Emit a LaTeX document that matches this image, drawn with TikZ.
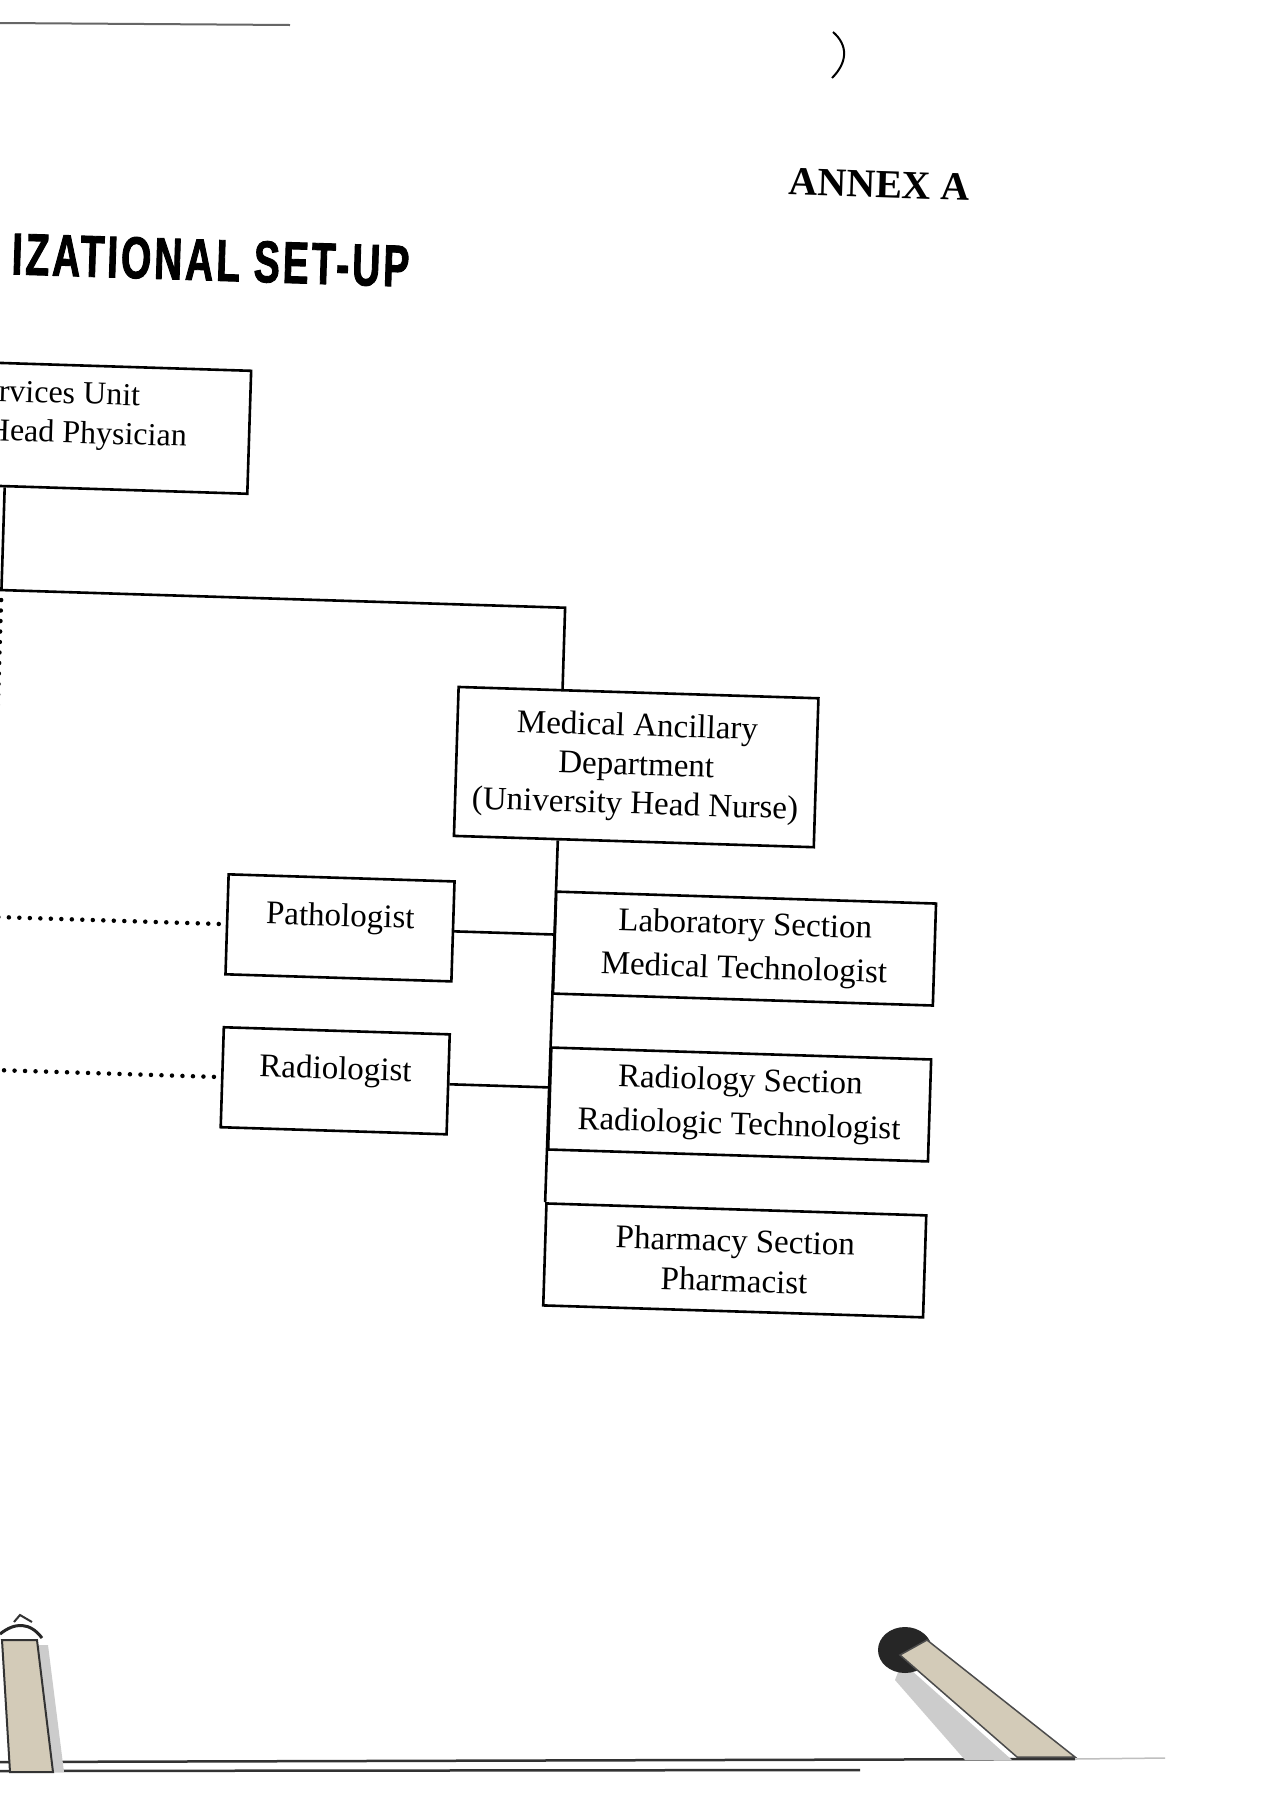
\documentclass[tikz,border=0pt]{standalone}
\usepackage{fontspec}
\setmainfont{Liberation Serif}
\newfontfamily\titlefont{Liberation Sans}[FakeStretch=0.66,FakeBold=1.5,LetterSpace=5]
\usetikzlibrary{positioning}
\definecolor{clipmetal}{HTML}{D3CBB8}

\begin{document}
\begin{tikzpicture}[x=1pt,y=-1pt,
    box/.style={draw,line width=2.6pt,inner sep=0pt,align=center,font=\fontsize{33}{39}\selectfont},
    secbox/.style={box,minimum width=380pt,minimum height=102pt,font=\fontsize{33}{44}\selectfont},
    sidebox/.style={box,minimum width=226pt,minimum height=100pt,text depth=26pt},
    link/.style={line width=2.6pt},
    dotlink/.style={line width=4.5pt,line cap=round,dash pattern=on 0pt off 10.5pt}]
    \useasboundingbox (0,0) rectangle (1275,1800);
    \clip (0,0) rectangle (1275,1800);
    \fill[white] (0,0) rectangle (1275,1800);
    \begin{scope}[rotate around={-1.8:(600,900)},transform shape]
        \node[anchor=base east,font={\titlefont\bfseries\fontsize{59}{59}\selectfont}] (title) at (393,293) {IZATIONAL SET-UP};
        \node[font={\bfseries\fontsize{40}{40}\selectfont}] (annex) at (857,176) {ANNEX A};
        \node[box,minimum width=300pt,minimum height=123pt,anchor=east] (headbox) at (236,443.5) {};
        \node[anchor=east,font=\fontsize{32}{32}\selectfont] (headtop) at (128,410) {rvices Unit};
        \node[anchor=east,font=\fontsize{32}{32}\selectfont] (headbot) at (176,452) {Head Physician};
        \node[box,minimum width=360pt,minimum height=149pt] (meddept) at (632,766) {Medical Ancillary\\Department\\(University Head Nurse)};
        \node[secbox] (labsec) at (746,944) {Laboratory Section\\Medical Technologist};
        \node[secbox] (radsec) at (746,1100) {Radiology Section\\Radiologic Technologist};
        \node[secbox,font=\fontsize{33}{40}\selectfont] (pharmsec) at (746,1256) {Pharmacy Section\\Pharmacist};
        \node[sidebox] (patho) at (341,936) {Pathologist};
        \node[sidebox] (radio) at (341,1089) {Radiologist};
        \coordinate (junc) at (-8,609);
        \coordinate (spinetop) at (556,609);
        \draw[link] (junc |- headbox.south) -- (junc);
        \draw[link] (-40,609) -- (spinetop) -- (spinetop |- meddept.north);
        \draw[link] (spinetop |- meddept.south) -- (pharmsec.north west);
        \draw[link] (patho.east) -- (patho.east -| pharmsec.west);
        \draw[link] (radio.east) -- (radio.east -| pharmsec.west);
        \draw[dotlink] (junc) ++(0,10) -- (junc |- radio.west);
        \draw[dotlink] ([xshift=-7pt]patho.west) -- (patho.west -| junc);
        \draw[dotlink] ([xshift=-7pt]radio.west) -- (radio.west -| junc);
    \end{scope}
    \draw[line width=2pt] (833,32) .. controls (848,45) and (848,62) .. (832,78);
    \draw[black!60,line width=2pt] (0,23) -- (290,25);
    \draw[black!80,line width=2.5pt] (0,1762) -- (1075,1759);
    \draw[black!80,line width=2.5pt] (0,1771) -- (860,1770);
    \draw[black!25,line width=1.5pt] (1075,1759) -- (1165,1758);
    % binder clips
    \fill[black!20] (38,1645) -- (48,1645) -- (64,1772) -- (52,1772) -- cycle;
    \filldraw[fill=clipmetal,draw=black!80,line width=2pt] (2,1640) -- (37,1640) -- (53,1772) -- (10,1772) -- cycle;
    \draw[black!85,line width=3pt] (0,1634) .. controls (15,1622) and (30,1622) .. (42,1638);
    \draw[black!80,line width=2pt] (14,1622) -- (20,1615) -- (32,1622);
    \fill[black!20] (902,1662) -- (1012,1760) -- (965,1760) -- (895,1680) -- cycle;
    \fill[black!85] (905,1650) ellipse (27pt and 23pt);
    \filldraw[fill=clipmetal,draw=black!70,line width=1.5pt] (927,1640) -- (1075,1757) -- (1017,1757) -- (900,1655) -- cycle;
\end{tikzpicture}
\end{document}
